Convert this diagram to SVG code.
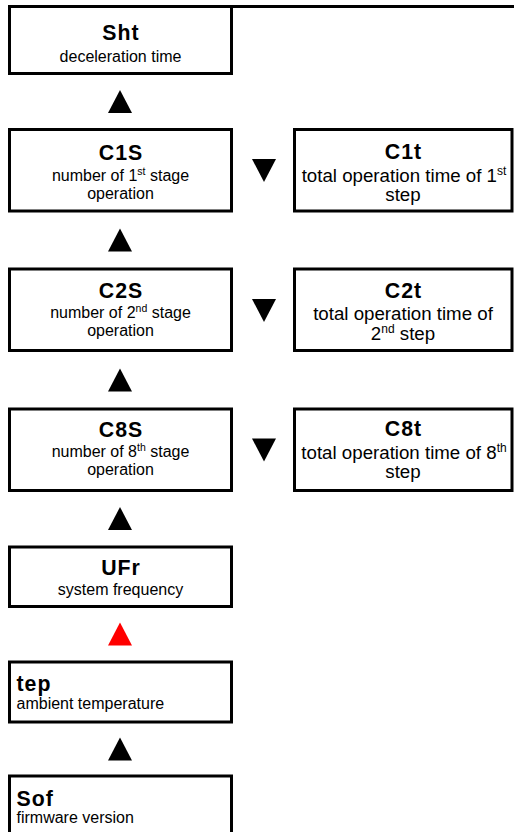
<svg xmlns="http://www.w3.org/2000/svg" width="514" height="832" viewBox="0 0 514 832">
<style>
.box{fill:#fff;stroke:#000;stroke-width:3}
.t{font-family:"Liberation Sans",Arial,sans-serif;font-weight:bold;font-size:21.3px;letter-spacing:1px;fill:#000}
.d{font-family:"Liberation Sans",Arial,sans-serif;font-size:16px;fill:#000}
.dl{font-family:"Liberation Sans",Arial,sans-serif;font-size:18.7px;fill:#000}
.c{text-anchor:middle}
.up{fill:#000}
.red{fill:#ff0000}
</style>
<rect width="514" height="832" fill="#fff"/>
<line x1="231.5" y1="6.5" x2="514" y2="6.5" stroke="#000" stroke-width="3"/>
<g id="Sht">
<rect class="box" x="9.5" y="6.5" width="222" height="67"/>
<text class="t c" x="121" y="40">Sht</text>
<text class="d c" x="120.5" y="62">deceleration time</text>
</g>
<g id="C1S">
<rect class="box" x="9.5" y="129.5" width="222" height="81.5"/>
<text class="t c" x="121" y="160">C1S</text>
<text class="d c" x="120.5" y="181">number of 1<tspan font-size="10.5" dy="-6">st</tspan><tspan dy="6"> stage</tspan></text>
<text class="d c" x="120.5" y="199">operation</text>
</g>
<g id="C1t">
<rect class="box" x="294.5" y="129.5" width="217.5" height="81.5"/>
<text class="t c" x="403.5" y="159">C1t</text>
<text class="dl c" x="404" y="181.5">total operation time of 1<tspan font-size="12" dy="-7">st</tspan></text>
<text class="dl c" x="403" y="200.5">step</text>
</g>
<g id="C2S">
<rect class="box" x="9.5" y="269" width="222" height="81.5"/>
<text class="t c" x="121" y="298">C2S</text>
<text class="d c" x="120.5" y="318">number of 2<tspan font-size="10.5" dy="-6">nd</tspan><tspan dy="6"> stage</tspan></text>
<text class="d c" x="120.5" y="336">operation</text>
</g>
<g id="C2t">
<rect class="box" x="294.5" y="269" width="217.5" height="81.5"/>
<text class="t c" x="403.5" y="298">C2t</text>
<text class="dl c" x="403" y="319.5">total operation time of</text>
<text class="dl c" x="403" y="340">2<tspan font-size="12" dy="-7">nd</tspan><tspan dy="7"> step</tspan></text>
</g>
<g id="C8S">
<rect class="box" x="9.5" y="409" width="222" height="81.5"/>
<text class="t c" x="121" y="436.5">C8S</text>
<text class="d c" x="120.5" y="456.5">number of 8<tspan font-size="10.5" dy="-6">th</tspan><tspan dy="6"> stage</tspan></text>
<text class="d c" x="120.5" y="474.5">operation</text>
</g>
<g id="C8t">
<rect class="box" x="294.5" y="409" width="217.5" height="81.5"/>
<text class="t c" x="403.5" y="436">C8t</text>
<text class="dl c" x="404" y="458.5">total operation time of 8<tspan font-size="12" dy="-7">th</tspan></text>
<text class="dl c" x="403" y="477.5">step</text>
</g>
<g id="UFr">
<rect class="box" x="9.5" y="547" width="222" height="59.5"/>
<text class="t c" x="121" y="575">UFr</text>
<text class="d c" x="120.5" y="595">system frequency</text>
</g>
<g id="tep">
<rect class="box" x="9.5" y="662" width="222" height="60"/>
<text class="t" x="16.5" y="691">tep</text>
<text class="d" x="16.5" y="709">ambient temperature</text>
</g>
<g id="Sof">
<rect class="box" x="9.5" y="776" width="222" height="70"/>
<text class="t" x="16.5" y="806">Sof</text>
<text class="d" x="16.5" y="823">firmware version</text>
</g>
<g id="connectors">
<polygon class="up" points="120,90 132,113 108,113"/>
<polygon class="up" points="120,228.5 132,251.5 108,251.5"/>
<polygon class="up" points="120,368.5 132,391.5 108,391.5"/>
<polygon class="up" points="120,507 132,530 108,530"/>
<polygon class="red" points="120,622.5 132,645.5 108,645.5"/>
<polygon class="up" points="120,737.5 132,760.5 108,760.5"/>
<polygon class="up" points="252,159 276,159 264,182"/>
<polygon class="up" points="252,299 276,299 264,322"/>
<polygon class="up" points="252,438.5 276,438.5 264,461.5"/>
</g>
</svg>
